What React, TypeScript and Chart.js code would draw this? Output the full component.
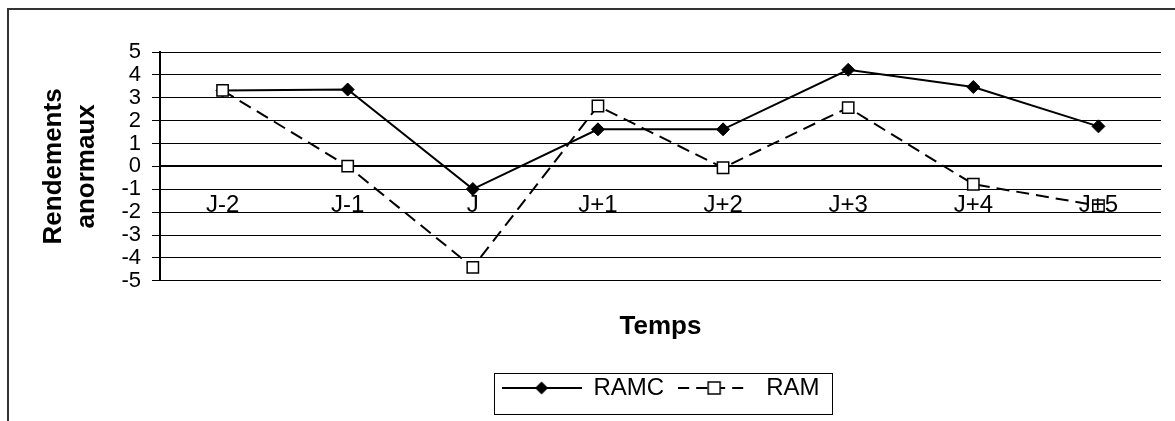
import React, { useEffect, useRef } from 'react';
import { Chart, registerables } from 'chart.js';

Chart.register(...registerables);

// ---- data ----
const categories = ['J-2', 'J-1', 'J', 'J+1', 'J+2', 'J+3', 'J+4', 'J+5'];
const ramcValues = [3.32, 3.36, -0.99, 1.62, 1.62, 4.22, 3.47, 1.75];
const ramValues = [3.32, 0.01, -4.41, 2.64, -0.06, 2.57, -0.78, -1.72];
const seriesNames = ['RAMC', 'RAM'];
const yMin = -5;
const yMax = 5;
const yStep = 1;
const yTitleLines = ['Rendements', 'anormaux'];
const xTitle = 'Temps';

const FONT = "'Liberation Sans', Arial, Helvetica, sans-serif";
const W = 1175;
const H = 421;

function makeSample(kind: 'diamond' | 'square'): HTMLCanvasElement {
  const c = document.createElement('canvas');
  const w = kind === 'diamond' ? 80 : 72;
  const h = 24;
  c.width = w;
  c.height = h;
  const ctx = c.getContext('2d') as CanvasRenderingContext2D;
  ctx.strokeStyle = '#000';
  ctx.lineWidth = 2;
  if (kind === 'square') ctx.setLineDash([11, 7]);
  ctx.beginPath();
  ctx.moveTo(0, 12);
  ctx.lineTo(w, 12);
  ctx.stroke();
  ctx.setLineDash([]);
  if (kind === 'diamond') {
    ctx.fillStyle = '#000';
    ctx.beginPath();
    ctx.moveTo(40, 5.5);
    ctx.lineTo(46.5, 12);
    ctx.lineTo(40, 18.5);
    ctx.lineTo(33.5, 12);
    ctx.closePath();
    ctx.fill();
  } else {
    ctx.fillStyle = '#fff';
    ctx.fillRect(30, 6, 12, 12);
    ctx.lineWidth = 1.5;
    ctx.strokeRect(30, 6, 12, 12);
  }
  return c;
}

const framePlugin = {
  id: 'frameAndLegendBox',
  beforeDraw(chart: any) {
    const ctx = chart.ctx;
    ctx.save();
    ctx.fillStyle = '#fff';
    ctx.fillRect(0, 0, chart.width, chart.height);
    ctx.strokeStyle = '#333';
    ctx.lineWidth = 2;
    ctx.beginPath();
    ctx.moveTo(8, chart.height);
    ctx.lineTo(8, 9);
    ctx.lineTo(chart.width, 9);
    ctx.stroke();
    ctx.restore();
  },
  afterDraw(chart: any) {
    const boxes = chart.legend && chart.legend.legendHitBoxes;
    if (!boxes || !boxes.length) return;
    const ctx = chart.ctx;
    const left = Math.min(...boxes.map((b: any) => b.left)) - 8;
    const right = Math.max(...boxes.map((b: any) => b.left + b.width)) + 12;
    const top = boxes[0].top - 3;
    const bottom = boxes[0].top + boxes[0].height + 14;
    ctx.save();
    ctx.strokeStyle = '#000';
    ctx.lineWidth = 1;
    ctx.strokeRect(Math.round(left) + 0.5, Math.round(top) + 0.5, Math.round(right - left), Math.round(bottom - top));
    ctx.restore();
  },
};

export default function App() {
  const ref = useRef<HTMLCanvasElement>(null);

  useEffect(() => {
    if (!ref.current) return;
    Chart.defaults.font.family = FONT;
    Chart.defaults.color = '#000';
    const sampleRamc = makeSample('diamond');
    const sampleRam = makeSample('square');

    const chart = new Chart(ref.current, {
      type: 'line',
      data: {
        labels: categories,
        datasets: [
          {
            label: seriesNames[0],
            data: ramcValues,
            borderColor: '#000',
            backgroundColor: '#000',
            borderWidth: 2,
            pointStyle: 'rectRot',
            pointRadius: 6.5,
            pointBorderWidth: 1,
            pointBackgroundColor: '#000',
            pointBorderColor: '#000',
            tension: 0,
            order: 1,
          },
          {
            label: seriesNames[1],
            data: ramValues,
            borderColor: '#000',
            backgroundColor: '#fff',
            borderWidth: 2,
            borderDash: [13, 7],
            pointStyle: 'rect',
            pointRadius: 8,
            pointBorderWidth: 1.5,
            pointBackgroundColor: '#fff',
            pointBorderColor: '#000',
            tension: 0,
            order: 0,
          },
        ],
      },
      options: {
        responsive: false,
        animation: false,
        events: [],
        layout: { padding: { left: 38, top: 52, right: 14, bottom: 11 } },
        scales: {
          x: {
            type: 'category',
            position: { y: 0 } as any,
            offset: true,
            grid: { display: false, drawTicks: false },
            border: { display: true, color: '#000', width: 2 },
            ticks: {
              font: { size: 24 },
              color: '#000',
              padding: 25,
              autoSkip: false,
              maxRotation: 0,
              minRotation: 0,
              z: 1,
            },
          },
          y: {
            type: 'linear',
            min: yMin,
            max: yMax,
            ticks: {
              stepSize: yStep,
              font: { size: 22, lineHeight: 1 },
              color: '#000',
              padding: 11,
              autoSkip: false,
            },
            grid: { color: '#000', lineWidth: 1, tickLength: 8, drawTicks: true },
            border: { display: true, color: '#000', width: 2 },
            title: {
              display: true,
              text: yTitleLines,
              font: { size: 26, weight: 'bold', lineHeight: 1.25 },
              color: '#000',
              padding: { top: 0, bottom: 0 },
            },
            afterFit: (s: any) => {
              s.width = 122;
            },
          },
        },
        plugins: {
          tooltip: { enabled: false },
          title: {
            display: true,
            text: xTitle,
            position: 'bottom',
            fullSize: false,
            weight: 500,
            font: { size: 26, weight: 'bold', lineHeight: 1.2 },
            color: '#000',
            padding: { top: 30, bottom: 24 },
          } as any,
          legend: {
            display: true,
            position: 'bottom',
            fullSize: false,
            align: 'center',
            labels: {
              usePointStyle: true,
              pointStyleWidth: 80,
              font: { size: 24 },
              color: '#000',
              padding: 10,
              generateLabels: () => [
                {
                  text: seriesNames[0],
                  pointStyle: sampleRamc as any,
                  fillStyle: '#000',
                  strokeStyle: '#000',
                  lineWidth: 0,
                  hidden: false,
                  datasetIndex: 0,
                  fontColor: '#000',
                },
                {
                  text: seriesNames[1],
                  pointStyle: sampleRam as any,
                  fillStyle: '#fff',
                  strokeStyle: '#000',
                  lineWidth: 0,
                  hidden: false,
                  datasetIndex: 1,
                  fontColor: '#000',
                },
              ],
            },
          } as any,
        },
      },
      plugins: [framePlugin],
    });

    return () => chart.destroy();
  }, []);

  return (
    <div style={{ position: 'fixed', left: 0, top: 0, width: W, height: H, background: '#fff' }}>
      <canvas ref={ref} width={W} height={H} style={{ display: 'block', width: W, height: H }} />
    </div>
  );
}
